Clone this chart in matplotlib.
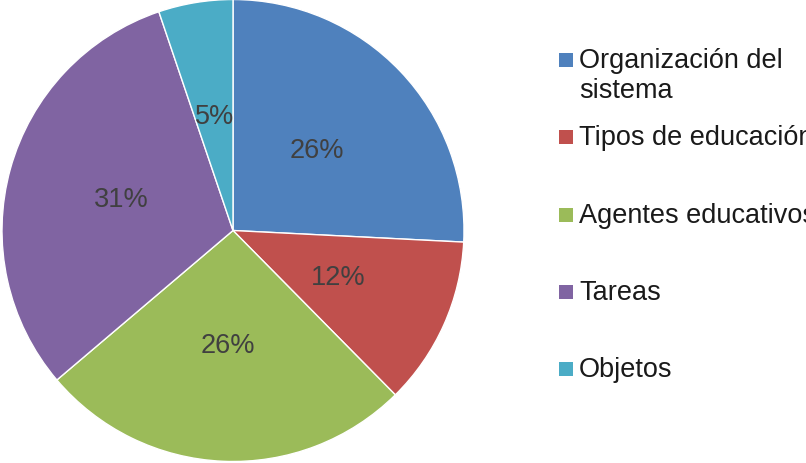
import matplotlib
matplotlib.use("Agg")
import matplotlib.pyplot as plt
from matplotlib.patches import Rectangle

categories = ["Organización del\nsistema", "Tipos de educación", "Agentes educativos", "Tareas", "Objetos"]
values = [25.8, 11.8, 26.2, 31.0, 5.2]
colors = ["#4F81BD", "#C0504D", "#9BBB59", "#8064A2", "#4BACC6"]

W, H = 806, 463
fig = plt.figure(figsize=(W / 100, H / 100), dpi=100)
plt.rcParams['font.family'] = ['Liberation Sans', 'DejaVu Sans']

# pie axes: center (233, 230.5) px from top, radius 231 px
r = 231
cx, cy_top = 233, 230.5
cy = H - cy_top
ax = fig.add_axes([(cx - r) / W, (cy - r) / H, 2 * r / W, 2 * r / H])
wedges, texts, autotexts = ax.pie(
    values, colors=colors, startangle=90, counterclock=False,
    autopct=lambda p: f"{p:.0f}%", pctdistance=0.5, radius=1.0,
    wedgeprops=dict(edgecolor="white", linewidth=1.0),
    textprops=dict(fontsize=19.5, color="#404040"))
ax.set_xlim(-1, 1)
ax.set_ylim(-1, 1)
ax.set_aspect("equal")
ax.axis("off")

# legend drawn in pixel coordinates (from top)
lax = fig.add_axes([0, 0, 1, 1])
lax.set_xlim(0, W)
lax.set_ylim(H, 0)
lax.axis("off")
baselines = [68, 145, 223, 300, 377]
for lab, col, b in zip(categories, colors, baselines):
    lax.add_patch(Rectangle((559, b - 15), 14, 14, facecolor=col, edgecolor="none"))
    for i, line in enumerate(lab.split("\n")):
        lax.text(579, b + i * 30, line, fontsize=19.5, color="#1a1a1a",
                 va="baseline", ha="left", clip_on=False)

fig.savefig("out.png", dpi=100)
